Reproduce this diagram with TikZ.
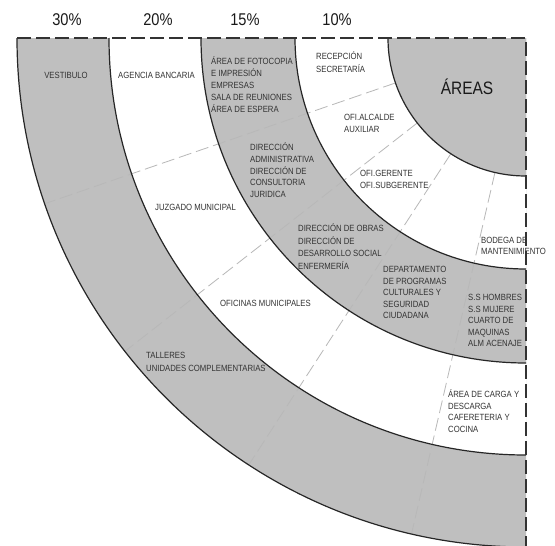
\documentclass[tikz,border=0pt]{standalone}
\usepackage{fontspec}
\setmainfont{Liberation Sans}
\newfontfamily\narrowsf[FakeStretch=0.86]{Liberation Sans}
\definecolor{ringgray}{RGB}{191,191,191}

\begin{document}
\begin{tikzpicture}[
  x=1pt,
  y=-1pt,
  ring/.style={fill=ringgray},
  hole/.style={fill=white},
  edge/.style={draw=black!85, line width=1.2pt},
  border/.style={draw=black!80, line width=1.6pt, dash pattern=on 14pt off 5pt},
  divider/.style={draw=black!28, line width=0.8pt, dash pattern=on 13pt off 5pt},
  lbl/.style={inner sep=0pt, anchor=base west, align=left, text=black!80,
    font=\narrowsf\fontsize{9}{12}\selectfont},
  pct/.style={inner sep=0pt, anchor=base, text=black!90,
    font=\narrowsf\fontsize{17}{17}\selectfont},
]
  \useasboundingbox (0,0) rectangle (555,546);

  % centre of the rings: top right corner
  \def\cx{526}
  \def\cy{38}
  \def\rA{138}
  \def\rB{231}
  \def\rC{325}
  \def\rD{417}
  \def\rE{509}
  \coordinate (C) at (\cx,\cy);

  % Rings, outside in (gray / white / gray / white / gray)
  \fill[ring] (C) -- ++(180:\rE) arc[start angle=180, end angle=90, radius=\rE] -- cycle;
  \fill[hole] (C) -- ++(180:\rD) arc[start angle=180, end angle=90, radius=\rD] -- cycle;
  \fill[ring] (C) -- ++(180:\rC) arc[start angle=180, end angle=90, radius=\rC] -- cycle;
  \fill[hole] (C) -- ++(180:\rB) arc[start angle=180, end angle=90, radius=\rB] -- cycle;
  \fill[ring] (C) -- ++(180:\rA) arc[start angle=180, end angle=90, radius=\rA] -- cycle;

  % Divisions between the rooms
  \draw[divider] ([shift={(161:\rA)}]C) -- ([shift={(161:\rE)}]C);
  \draw[divider] ([shift={(142:\rA)}]C) -- ([shift={(142:\rE)}]C);
  \draw[divider] ([shift={(123:\rA)}]C) -- ([shift={(123:\rE)}]C);
  \draw[divider] ([shift={(103:\rA)}]C) -- ([shift={(103:\rE)}]C);

  % Ring edges
  \draw[edge] (C) ++(180:\rA) arc[start angle=180, end angle=90, radius=\rA];
  \draw[edge] (C) ++(180:\rB) arc[start angle=180, end angle=90, radius=\rB];
  \draw[edge] (C) ++(180:\rC) arc[start angle=180, end angle=90, radius=\rC];
  \draw[edge] (C) ++(180:\rD) arc[start angle=180, end angle=90, radius=\rD];
  \draw[edge] (C) ++(180:\rE) arc[start angle=180, end angle=90, radius=\rE];

  % Dashed frame
  \draw[border] ([xshift=-\rE]C) -- (C) -- (\cx,546);

  % Percentages
  \node[pct] (p30) at (67,25) {30\%};
  \node[pct] (p20) at (158,25) {20\%};
  \node[pct] (p15) at (245,25) {15\%};
  \node[pct] (p10) at (337,25) {10\%};

  % Core
  \node[pct, font=\narrowsf\fontsize{18}{18}\selectfont] (areas) at (467,94.5) {ÁREAS};

  % 10% ring (base = last line)
  \node[lbl, font=\narrowsf\fontsize{9}{13}\selectfont] (recep) at (316,72) {RECEPCIÓN\\SECRETARÍA};
  \node[lbl] (alcalde) at (344,132) {OFI.ALCALDE\\AUXILIAR};
  \node[lbl] (gerente) at (360,188) {OFI.GERENTE\\OFI.SUBGERENTE};
  \node[lbl, font=\narrowsf\fontsize{9}{11}\selectfont] (bodega) at (481,254.5) {BODEGA DE\\MANTENIMIENTO};
  \node[lbl, font=\narrowsf\fontsize{9}{11.7}\selectfont] (carga) at (448,432.5) {ÁREA DE CARGA Y\\DESCARGA\\CAFERETERIA Y\\COCINA};

  % 15% ring
  \node[lbl] (foto) at (211,112) {ÁREA DE FOTOCOPIA\\E IMPRESIÓN\\EMPRESAS\\SALA DE REUNIONES\\ÁREA DE ESPERA};
  \node[lbl, font=\narrowsf\fontsize{9}{11.75}\selectfont] (admin) at (250,197.5) {DIRECCIÓN\\ADMINISTRATIVA\\DIRECCIÓN DE\\CONSULTORIA\\JURIDICA};
  \node[lbl, font=\narrowsf\fontsize{9}{12.7}\selectfont] (obras) at (298,269.5) {DIRECCIÓN DE OBRAS\\DIRECCIÓN DE\\DESARROLLO SOCIAL\\ENFERMERÍA};
  \node[lbl, font=\narrowsf\fontsize{9}{11.5}\selectfont] (depto) at (383,318.5) {DEPARTAMENTO\\DE PROGRAMAS\\CULTURALES Y\\SEGURIDAD\\CIUDADANA};
  \node[lbl, font=\narrowsf\fontsize{9}{11.5}\selectfont] (ss) at (468,346.5) {S.S HOMBRES\\S.S MUJERE\\CUARTO DE\\MAQUINAS\\ALM ACENAJE};

  % 20% ring
  \node[lbl] (banco) at (118,78) {AGENCIA BANCARIA};
  \node[lbl] (juzgado) at (155,210) {JUZGADO MUNICIPAL};
  \node[lbl] (oficinas) at (220,306.5) {OFICINAS MUNICIPALES};

  % 30% ring
  \node[lbl, anchor=base] (vest) at (66,78) {VESTIBULO};
  \node[lbl, font=\narrowsf\fontsize{9}{12.6}\selectfont] (talleres) at (146,371.5) {TALLERES\\UNIDADES COMPLEMENTARIAS};
\end{tikzpicture}
\end{document}
